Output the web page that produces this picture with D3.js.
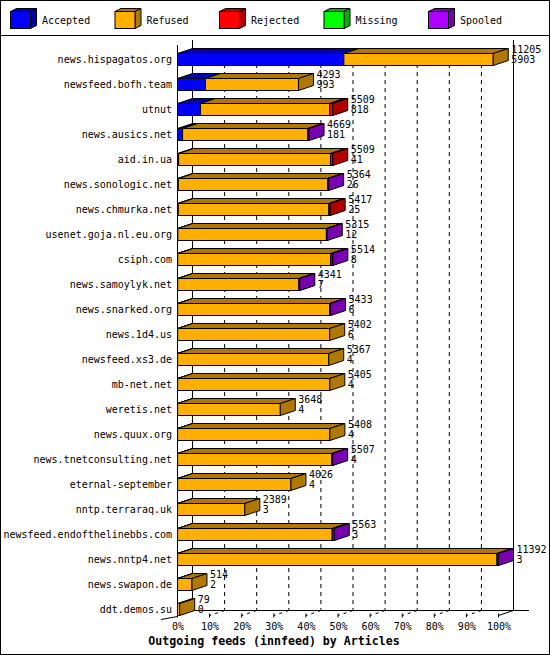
<!DOCTYPE html>
<html>
<head>
<meta charset="utf-8">
<script src="https://cdn.jsdelivr.net/npm/d3@7"></script>
<style>
body { margin: 0; background: #fff; }
svg text { font-family: "DejaVu Sans Mono", monospace; font-size: 10px; fill: #000; }
</style>
</head>
<body>
<div id="chart"></div>
<script>
// innfeed outgoing feeds, per host
var hosts = ["news.hispagatos.org", "newsfeed.bofh.team", "utnut", "news.ausics.net",
  "aid.in.ua", "news.sonologic.net", "news.chmurka.net", "usenet.goja.nl.eu.org",
  "csiph.com", "news.samoylyk.net", "news.snarked.org", "news.1d4.us",
  "newsfeed.xs3.de", "mb-net.net", "weretis.net", "news.quux.org",
  "news.tnetconsulting.net", "eternal-september", "nntp.terraraq.uk",
  "newsfeed.endofthelinebbs.com", "news.nntp4.net", "news.swapon.de", "ddt.demos.su"];
var offered  = [11205, 4293, 5509, 4669, 5509, 5364, 5417, 5315, 5514, 4341, 5433, 5402,
  5367, 5405, 3648, 5408, 5507, 4026, 2389, 5563, 11392, 514, 79];
var accepted = [5903, 993, 818, 181, 41, 26, 25, 12, 8, 7, 6, 6,
  4, 4, 4, 4, 4, 4, 3, 3, 3, 2, 0];
var refused  = [5302, 3300, 4581, 4448, 5388, 5298, 5352, 5273, 5436, 4304, 5397, 5396,
  5363, 5401, 3644, 5404, 5473, 4022, 2386, 5490, 11339, 512, 79];
var rejected = [0, 0, 110, 0, 80, 0, 40, 0, 0, 0, 0, 0,
  0, 0, 0, 0, 0, 0, 0, 0, 0, 0, 0];
var missing  = [0, 0, 0, 0, 0, 0, 0, 0, 0, 0, 0, 0,
  0, 0, 0, 0, 0, 0, 0, 0, 0, 0, 0];
var spooled  = [0, 0, 0, 40, 0, 40, 0, 30, 70, 30, 30, 0,
  0, 0, 0, 0, 30, 0, 0, 70, 50, 0, 0];

var seriesNames = ["Accepted", "Refused", "Rejected", "Missing", "Spooled"];
var seriesColors = ["#0000ff", "#ffaf00", "#ff0000", "#00ff00", "#af00ff"];
var seriesDark = ["#0000b0", "#b07800", "#b00000", "#00b000", "#7800b0"];
var tickPct = [0, 10, 20, 30, 40, 50, 60, 70, 80, 90, 100];
var title = "Outgoing feeds (innfeed) by Articles";

var W = 550, H = 655,
    dx = 15, dy = 5,     // 3d depth
    barH = 12,
    floorY = 610.5;

var svg = d3.select("#chart").append("svg")
    .attr("width", W)
    .attr("height", H);

// frame + legend separator
svg.append("rect")
    .attr("x", 0.5).attr("y", 0.5)
    .attr("width", W - 1).attr("height", H - 1)
    .attr("fill", "#fff").attr("stroke", "#000");
svg.append("line")
    .attr("x1", 0).attr("x2", W)
    .attr("y1", 35.5).attr("y2", 35.5)
    .attr("stroke", "#000");

// legend
var leg = svg.append("g");
seriesNames.forEach(function(name, k) {
  var lx = 10.5 + k * 104.5, ly = 11.5;
  leg.append("path")
      .attr("d", "M" + lx + "," + ly + "L" + (lx + 6) + "," + (ly - 3) + "L" + (lx + 26) + "," + (ly - 3) + "L" + (lx + 20) + "," + ly + "Z")
      .attr("fill", seriesDark[k]).attr("stroke", "#000");
  leg.append("path")
      .attr("d", "M" + (lx + 20) + "," + ly + "L" + (lx + 26) + "," + (ly - 3) + "L" + (lx + 26) + "," + (ly + 14) + "L" + (lx + 20) + "," + (ly + 17) + "Z")
      .attr("fill", seriesDark[k]).attr("stroke", "#000");
  leg.append("rect")
      .attr("x", lx).attr("y", ly)
      .attr("width", 20).attr("height", 17)
      .attr("fill", seriesColors[k]).attr("stroke", "#000");
  leg.append("text")
      .attr("x", lx + 31.5).attr("y", 24)
      .text(name);
});

var x = d3.scaleLinear().domain([0, d3.max(offered)]).range([177.5, 498.5]);
var pct = d3.scaleLinear().domain([0, 100]).range([177.5, 498.5]);
var y = d3.scaleBand().domain(hosts).range([53.5, 53.5 + hosts.length * 25]).padding(0);

// grid lines (dashed) on back wall and floor
var grid = svg.append("g").attr("stroke", "#000").attr("fill", "none");
tickPct.forEach(function(p) {
  var xf = pct(p), xb = pct(p) + dx;
  if (p > 0 && p < 100) {
    grid.append("line")
        .attr("x1", xb).attr("x2", xb)
        .attr("y1", 48).attr("y2", floorY)
        .attr("stroke-dasharray", "4,4");
    grid.append("line")
        .attr("x1", xb).attr("y1", floorY)
        .attr("x2", xf).attr("y2", floorY + dy)
        .attr("stroke-dasharray", "3,4");
  }
  grid.append("line")
      .attr("x1", xf).attr("x2", xf)
      .attr("y1", floorY + 3).attr("y2", floorY + 7);
});

// axes frame
grid.append("line").attr("x1", pct(0) + dx).attr("x2", pct(0) + dx).attr("y1", 40).attr("y2", floorY);
grid.append("line").attr("x1", pct(100) + dx).attr("x2", pct(100) + dx).attr("y1", 40).attr("y2", floorY);
grid.append("line").attr("x1", pct(0) + dx).attr("x2", 529).attr("y1", floorY).attr("y2", floorY);
grid.append("line").attr("x1", pct(100)).attr("y1", floorY + dy).attr("x2", pct(100) + dx).attr("y2", floorY);
grid.append("line").attr("x1", pct(0)).attr("x2", pct(0)).attr("y1", 45).attr("y2", floorY + dy);
grid.append("line").attr("x1", pct(0)).attr("y1", floorY + dy).attr("x2", pct(0) + dx).attr("y2", floorY);
grid.append("line").attr("x1", 161).attr("y1", floorY + 9).attr("x2", pct(0)).attr("y2", floorY + dy + 1);

// stacked 3d bars
var series = [accepted, refused, rejected, missing, spooled];
var bars = svg.append("g").attr("stroke", "#000");
hosts.forEach(function(h, i) {
  var t = y(h), start = 0;
  series.forEach(function(arr, k) {
    var v = arr[i];
    if (!v) return;
    var x0 = x(start), x1 = x(start + v);
    start += v;
    bars.append("rect")
        .attr("x", x0).attr("y", t)
        .attr("width", x1 - x0).attr("height", barH)
        .attr("fill", seriesColors[k]);
    bars.append("path")
        .attr("d", "M" + x0 + "," + t + "L" + (x0 + dx) + "," + (t - dy) + "L" + (x1 + dx) + "," + (t - dy) + "L" + x1 + "," + t + "Z")
        .attr("fill", seriesDark[k]);
    bars.append("path")
        .attr("d", "M" + x1 + "," + t + "L" + (x1 + dx) + "," + (t - dy) + "L" + (x1 + dx) + "," + (t + barH - dy) + "L" + x1 + "," + (t + barH) + "Z")
        .attr("fill", seriesDark[k]);
  });

  svg.append("text")
      .attr("x", 172).attr("y", t + 9.5)
      .attr("text-anchor", "end")
      .text(h);

  var lx = x(offered[i]) + dx + 3;
  svg.append("text").attr("x", lx).attr("y", t - 0.5).text(offered[i]);
  svg.append("text").attr("x", lx).attr("y", t + 9.5).text(accepted[i]);
});

// value axis labels
var xAxis = d3.axisBottom(pct)
    .tickValues(tickPct)
    .tickFormat(function(d) { return d + "%"; })
    .tickSize(0);
var ax = svg.append("g")
    .attr("transform", "translate(0,630)")
    .call(xAxis);
ax.select(".domain").remove();
ax.selectAll("text")
    .attr("y", 0).attr("dy", 0)
    .style("font-family", "DejaVu Sans Mono, monospace")
    .style("font-size", "10px")
    .attr("fill", "#000");

svg.append("text")
    .attr("x", 274).attr("y", 645)
    .attr("text-anchor", "middle")
    .style("font-weight", "bold")
    .style("font-size", "11.6px")
    .text(title);
</script>
</body>
</html>
